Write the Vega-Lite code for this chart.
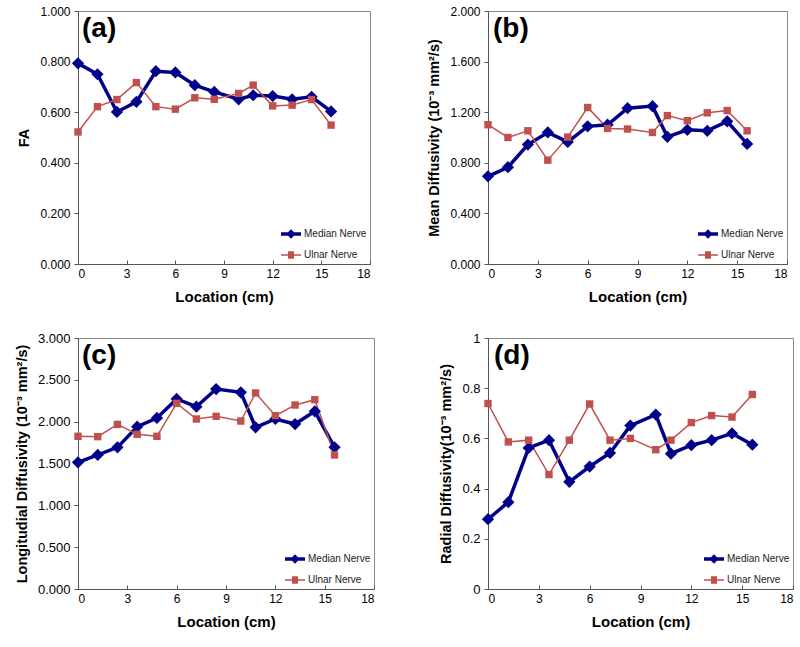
{
  "$schema": "https://vega.github.io/schema/vega-lite/v6.json",
  "background": "white",
  "padding": {"left": 13, "top": 4, "right": 4, "bottom": 4},
  "config": {
    "font": "Liberation Sans",
    "view": {"stroke": "#888888", "strokeWidth": 1},
    "axis": {"grid": false, "domainColor": "#555555", "tickColor": "#555555", "labelFont": "Liberation Sans", "labelFontSize": 12, "labelColor": "black", "titleFont": "Liberation Sans", "titleFontSize": 15, "titleFontWeight": "bold", "titleColor": "black", "tickSize": 4},
    "axisX": {"tickSize": -4, "labelPadding": 8, "titlePadding": 10},
    "axisY": {"titlePadding": 8, "labelPadding": 4, "titleFontSize": 14.5},
    "legend": {"labelFont": "Liberation Sans", "labelFontSize": 10, "labelColor": "#222222"},
    "title": {"font": "Liberation Sans", "fontSize": 28, "fontWeight": "bold", "anchor": "start", "frame": "group", "color": "black"}
  },
  "datasets": {
    "d": [
      {"panel": "a", "series": "Median Nerve", "loc": 0, "value": 0.793},
      {"panel": "a", "series": "Median Nerve", "loc": 1.2, "value": 0.750},
      {"panel": "a", "series": "Median Nerve", "loc": 2.4, "value": 0.601},
      {"panel": "a", "series": "Median Nerve", "loc": 3.6, "value": 0.641},
      {"panel": "a", "series": "Median Nerve", "loc": 4.8, "value": 0.762},
      {"panel": "a", "series": "Median Nerve", "loc": 6.0, "value": 0.757},
      {"panel": "a", "series": "Median Nerve", "loc": 7.2, "value": 0.707},
      {"panel": "a", "series": "Median Nerve", "loc": 8.4, "value": 0.680},
      {"panel": "a", "series": "Median Nerve", "loc": 9.9, "value": 0.651},
      {"panel": "a", "series": "Median Nerve", "loc": 10.8, "value": 0.667},
      {"panel": "a", "series": "Median Nerve", "loc": 12.0, "value": 0.664},
      {"panel": "a", "series": "Median Nerve", "loc": 13.2, "value": 0.651},
      {"panel": "a", "series": "Median Nerve", "loc": 14.4, "value": 0.661},
      {"panel": "a", "series": "Median Nerve", "loc": 15.6, "value": 0.603},
      {"panel": "a", "series": "Ulnar Nerve", "loc": 0, "value": 0.522},
      {"panel": "a", "series": "Ulnar Nerve", "loc": 1.2, "value": 0.622},
      {"panel": "a", "series": "Ulnar Nerve", "loc": 2.4, "value": 0.650},
      {"panel": "a", "series": "Ulnar Nerve", "loc": 3.6, "value": 0.717},
      {"panel": "a", "series": "Ulnar Nerve", "loc": 4.8, "value": 0.622},
      {"panel": "a", "series": "Ulnar Nerve", "loc": 6.0, "value": 0.612},
      {"panel": "a", "series": "Ulnar Nerve", "loc": 7.2, "value": 0.657},
      {"panel": "a", "series": "Ulnar Nerve", "loc": 8.4, "value": 0.651},
      {"panel": "a", "series": "Ulnar Nerve", "loc": 9.9, "value": 0.674},
      {"panel": "a", "series": "Ulnar Nerve", "loc": 10.8, "value": 0.707},
      {"panel": "a", "series": "Ulnar Nerve", "loc": 12.0, "value": 0.625},
      {"panel": "a", "series": "Ulnar Nerve", "loc": 13.2, "value": 0.628},
      {"panel": "a", "series": "Ulnar Nerve", "loc": 14.4, "value": 0.650},
      {"panel": "a", "series": "Ulnar Nerve", "loc": 15.6, "value": 0.549},
      {"panel": "b", "series": "Median Nerve", "loc": 0, "value": 0.693},
      {"panel": "b", "series": "Median Nerve", "loc": 1.2, "value": 0.765},
      {"panel": "b", "series": "Median Nerve", "loc": 2.4, "value": 0.944},
      {"panel": "b", "series": "Median Nerve", "loc": 3.6, "value": 1.040},
      {"panel": "b", "series": "Median Nerve", "loc": 4.8, "value": 0.965},
      {"panel": "b", "series": "Median Nerve", "loc": 6.0, "value": 1.088},
      {"panel": "b", "series": "Median Nerve", "loc": 7.2, "value": 1.101},
      {"panel": "b", "series": "Median Nerve", "loc": 8.4, "value": 1.232},
      {"panel": "b", "series": "Median Nerve", "loc": 9.9, "value": 1.248},
      {"panel": "b", "series": "Median Nerve", "loc": 10.8, "value": 1.005},
      {"panel": "b", "series": "Median Nerve", "loc": 12.0, "value": 1.061},
      {"panel": "b", "series": "Median Nerve", "loc": 13.2, "value": 1.053},
      {"panel": "b", "series": "Median Nerve", "loc": 14.4, "value": 1.128},
      {"panel": "b", "series": "Median Nerve", "loc": 15.6, "value": 0.949},
      {"panel": "b", "series": "Ulnar Nerve", "loc": 0, "value": 1.101},
      {"panel": "b", "series": "Ulnar Nerve", "loc": 1.2, "value": 1.000},
      {"panel": "b", "series": "Ulnar Nerve", "loc": 2.4, "value": 1.053},
      {"panel": "b", "series": "Ulnar Nerve", "loc": 3.6, "value": 0.821},
      {"panel": "b", "series": "Ulnar Nerve", "loc": 4.8, "value": 1.003},
      {"panel": "b", "series": "Ulnar Nerve", "loc": 6.0, "value": 1.237},
      {"panel": "b", "series": "Ulnar Nerve", "loc": 7.2, "value": 1.072},
      {"panel": "b", "series": "Ulnar Nerve", "loc": 8.4, "value": 1.067},
      {"panel": "b", "series": "Ulnar Nerve", "loc": 9.9, "value": 1.040},
      {"panel": "b", "series": "Ulnar Nerve", "loc": 10.8, "value": 1.173},
      {"panel": "b", "series": "Ulnar Nerve", "loc": 12.0, "value": 1.133},
      {"panel": "b", "series": "Ulnar Nerve", "loc": 13.2, "value": 1.195},
      {"panel": "b", "series": "Ulnar Nerve", "loc": 14.4, "value": 1.213},
      {"panel": "b", "series": "Ulnar Nerve", "loc": 15.6, "value": 1.053},
      {"panel": "c", "series": "Median Nerve", "loc": 0, "value": 1.514},
      {"panel": "c", "series": "Median Nerve", "loc": 1.2, "value": 1.602},
      {"panel": "c", "series": "Median Nerve", "loc": 2.4, "value": 1.693},
      {"panel": "c", "series": "Median Nerve", "loc": 3.6, "value": 1.940},
      {"panel": "c", "series": "Median Nerve", "loc": 4.8, "value": 2.044},
      {"panel": "c", "series": "Median Nerve", "loc": 6.0, "value": 2.271},
      {"panel": "c", "series": "Median Nerve", "loc": 7.2, "value": 2.179},
      {"panel": "c", "series": "Median Nerve", "loc": 8.4, "value": 2.390},
      {"panel": "c", "series": "Median Nerve", "loc": 9.9, "value": 2.351},
      {"panel": "c", "series": "Median Nerve", "loc": 10.8, "value": 1.932},
      {"panel": "c", "series": "Median Nerve", "loc": 12.0, "value": 2.032},
      {"panel": "c", "series": "Median Nerve", "loc": 13.2, "value": 1.972},
      {"panel": "c", "series": "Median Nerve", "loc": 14.4, "value": 2.124},
      {"panel": "c", "series": "Median Nerve", "loc": 15.6, "value": 1.693},
      {"panel": "c", "series": "Ulnar Nerve", "loc": 0, "value": 1.825},
      {"panel": "c", "series": "Ulnar Nerve", "loc": 1.2, "value": 1.821},
      {"panel": "c", "series": "Ulnar Nerve", "loc": 2.4, "value": 1.968},
      {"panel": "c", "series": "Ulnar Nerve", "loc": 3.6, "value": 1.849},
      {"panel": "c", "series": "Ulnar Nerve", "loc": 4.8, "value": 1.825},
      {"panel": "c", "series": "Ulnar Nerve", "loc": 6.0, "value": 2.219},
      {"panel": "c", "series": "Ulnar Nerve", "loc": 7.2, "value": 2.032},
      {"panel": "c", "series": "Ulnar Nerve", "loc": 8.4, "value": 2.064},
      {"panel": "c", "series": "Ulnar Nerve", "loc": 9.9, "value": 2.008},
      {"panel": "c", "series": "Ulnar Nerve", "loc": 10.8, "value": 2.343},
      {"panel": "c", "series": "Ulnar Nerve", "loc": 12.0, "value": 2.072},
      {"panel": "c", "series": "Ulnar Nerve", "loc": 13.2, "value": 2.199},
      {"panel": "c", "series": "Ulnar Nerve", "loc": 14.4, "value": 2.263},
      {"panel": "c", "series": "Ulnar Nerve", "loc": 15.6, "value": 1.602},
      {"panel": "d", "series": "Median Nerve", "loc": 0, "value": 0.278},
      {"panel": "d", "series": "Median Nerve", "loc": 1.2, "value": 0.346},
      {"panel": "d", "series": "Median Nerve", "loc": 2.4, "value": 0.562},
      {"panel": "d", "series": "Median Nerve", "loc": 3.6, "value": 0.593},
      {"panel": "d", "series": "Median Nerve", "loc": 4.8, "value": 0.427},
      {"panel": "d", "series": "Median Nerve", "loc": 6.0, "value": 0.488},
      {"panel": "d", "series": "Median Nerve", "loc": 7.2, "value": 0.542},
      {"panel": "d", "series": "Median Nerve", "loc": 8.4, "value": 0.651},
      {"panel": "d", "series": "Median Nerve", "loc": 9.9, "value": 0.695},
      {"panel": "d", "series": "Median Nerve", "loc": 10.8, "value": 0.539},
      {"panel": "d", "series": "Median Nerve", "loc": 12.0, "value": 0.573},
      {"panel": "d", "series": "Median Nerve", "loc": 13.2, "value": 0.593},
      {"panel": "d", "series": "Median Nerve", "loc": 14.4, "value": 0.620},
      {"panel": "d", "series": "Median Nerve", "loc": 15.6, "value": 0.575},
      {"panel": "d", "series": "Ulnar Nerve", "loc": 0, "value": 0.739},
      {"panel": "d", "series": "Ulnar Nerve", "loc": 1.2, "value": 0.586},
      {"panel": "d", "series": "Ulnar Nerve", "loc": 2.4, "value": 0.593},
      {"panel": "d", "series": "Ulnar Nerve", "loc": 3.6, "value": 0.456},
      {"panel": "d", "series": "Ulnar Nerve", "loc": 4.8, "value": 0.593},
      {"panel": "d", "series": "Ulnar Nerve", "loc": 6.0, "value": 0.737},
      {"panel": "d", "series": "Ulnar Nerve", "loc": 7.2, "value": 0.593},
      {"panel": "d", "series": "Ulnar Nerve", "loc": 8.4, "value": 0.600},
      {"panel": "d", "series": "Ulnar Nerve", "loc": 9.9, "value": 0.555},
      {"panel": "d", "series": "Ulnar Nerve", "loc": 10.8, "value": 0.593},
      {"panel": "d", "series": "Ulnar Nerve", "loc": 12.0, "value": 0.663},
      {"panel": "d", "series": "Ulnar Nerve", "loc": 13.2, "value": 0.691},
      {"panel": "d", "series": "Ulnar Nerve", "loc": 14.4, "value": 0.685},
      {"panel": "d", "series": "Ulnar Nerve", "loc": 15.6, "value": 0.775}
    ]
  },
  "data": {"name": "d"},
  "columns": 2,
  "spacing": {"row": 26, "column": 51},
  "resolve": {"scale": {"color": "independent", "shape": "independent", "strokeWidth": "independent"}, "legend": {"color": "independent", "shape": "independent"}},
  "concat": [
    {
      "width": 292, "height": 253,
      "title": {"text": "(a)", "dx": 4, "dy": 42},
      "transform": [{"filter": "datum.panel == 'a'"}],
      "encoding": {
        "x": {"field": "loc", "type": "quantitative", "title": "Location (cm)", "scale": {"domain": [0, 18], "nice": false}, "axis": {"values": [0, 3, 6, 9, 12, 15, 18]}},
        "y": {"field": "value", "type": "quantitative", "title": "FA", "scale": {"domain": [0, 1], "nice": false}, "axis": {"values": [0, 0.2, 0.4, 0.6, 0.8, 1.0], "format": ".3f"}}
      },
      "layer": [
        {"mark": {"type": "line"}, "encoding": {"color": {"field": "series", "type": "nominal", "scale": {"domain": ["Median Nerve", "Ulnar Nerve"], "range": ["#00008b", "#c0504d"]}, "legend": {"title": null, "orient": "bottom-right", "offset": 3, "symbolSize": 400, "symbolOpacity": 1, "rowPadding": 0, "labelOffset": 1}}, "strokeWidth": {"field": "series", "type": "nominal", "scale": {"domain": ["Median Nerve", "Ulnar Nerve"], "range": [3.5, 1.5]}, "legend": null}}},
        {"transform": [{"filter": "datum.series == 'Median Nerve'"}], "mark": {"type": "point", "shape": "diamond", "filled": true, "size": 150, "opacity": 1, "color": "#00008b"}},
        {"transform": [{"filter": "datum.series == 'Ulnar Nerve'"}], "mark": {"type": "point", "shape": "square", "filled": true, "size": 55, "opacity": 1, "color": "#c0504d"}},
        {"mark": {"type": "point", "filled": true, "opacity": 0}, "encoding": {"shape": {"field": "series", "type": "nominal", "scale": {"domain": ["Median Nerve", "Ulnar Nerve"], "range": ["M-1,0H1M0,-0.22L0.22,0L0,0.22L-0.22,0Z", "M-1,0H1M-0.3,-0.3H0.3M-0.3,-0.15H0.3M-0.3,0.15H0.3M-0.3,0.3H0.3"]}}}}
      ]
    },
    {
      "width": 299, "height": 253,
      "title": {"text": "(b)", "dx": 5, "dy": 42},
      "transform": [{"filter": "datum.panel == 'b'"}],
      "encoding": {
        "x": {"field": "loc", "type": "quantitative", "title": "Location (cm)", "scale": {"domain": [0, 18], "nice": false}, "axis": {"values": [0, 3, 6, 9, 12, 15, 18]}},
        "y": {"field": "value", "type": "quantitative", "title": "Mean Diffusivity (10⁻³ mm²/s)", "scale": {"domain": [0, 2], "nice": false}, "axis": {"values": [0, 0.4, 0.8, 1.2, 1.6, 2.0], "format": ".3f"}}
      },
      "layer": [
        {"mark": {"type": "line"}, "encoding": {"color": {"field": "series", "type": "nominal", "scale": {"domain": ["Median Nerve", "Ulnar Nerve"], "range": ["#00008b", "#c0504d"]}, "legend": {"title": null, "orient": "bottom-right", "offset": 3, "symbolSize": 400, "symbolOpacity": 1, "rowPadding": 0, "labelOffset": 1}}, "strokeWidth": {"field": "series", "type": "nominal", "scale": {"domain": ["Median Nerve", "Ulnar Nerve"], "range": [3.5, 1.5]}, "legend": null}}},
        {"transform": [{"filter": "datum.series == 'Median Nerve'"}], "mark": {"type": "point", "shape": "diamond", "filled": true, "size": 150, "opacity": 1, "color": "#00008b"}},
        {"transform": [{"filter": "datum.series == 'Ulnar Nerve'"}], "mark": {"type": "point", "shape": "square", "filled": true, "size": 55, "opacity": 1, "color": "#c0504d"}},
        {"mark": {"type": "point", "filled": true, "opacity": 0}, "encoding": {"shape": {"field": "series", "type": "nominal", "scale": {"domain": ["Median Nerve", "Ulnar Nerve"], "range": ["M-1,0H1M0,-0.22L0.22,0L0,0.22L-0.22,0Z", "M-1,0H1M-0.3,-0.3H0.3M-0.3,-0.15H0.3M-0.3,0.15H0.3M-0.3,0.3H0.3"]}}}}
      ]
    },
    {
      "width": 296, "height": 251,
      "title": {"text": "(c)", "dx": 4, "dy": 42},
      "transform": [{"filter": "datum.panel == 'c'"}],
      "encoding": {
        "x": {"field": "loc", "type": "quantitative", "title": "Location (cm)", "scale": {"domain": [0, 18], "nice": false}, "axis": {"values": [0, 3, 6, 9, 12, 15, 18]}},
        "y": {"field": "value", "type": "quantitative", "title": "Longitudial Diffusivity (10⁻³ mm²/s)", "scale": {"domain": [0, 3], "nice": false}, "axis": {"values": [0, 0.5, 1.0, 1.5, 2.0, 2.5, 3.0], "format": ".3f", "labelFontSize": 13}}
      },
      "layer": [
        {"mark": {"type": "line"}, "encoding": {"color": {"field": "series", "type": "nominal", "scale": {"domain": ["Median Nerve", "Ulnar Nerve"], "range": ["#00008b", "#c0504d"]}, "legend": {"title": null, "orient": "bottom-right", "offset": 3, "symbolSize": 400, "symbolOpacity": 1, "rowPadding": 0, "labelOffset": 1}}, "strokeWidth": {"field": "series", "type": "nominal", "scale": {"domain": ["Median Nerve", "Ulnar Nerve"], "range": [3.5, 1.5]}, "legend": null}}},
        {"transform": [{"filter": "datum.series == 'Median Nerve'"}], "mark": {"type": "point", "shape": "diamond", "filled": true, "size": 150, "opacity": 1, "color": "#00008b"}},
        {"transform": [{"filter": "datum.series == 'Ulnar Nerve'"}], "mark": {"type": "point", "shape": "square", "filled": true, "size": 55, "opacity": 1, "color": "#c0504d"}},
        {"mark": {"type": "point", "filled": true, "opacity": 0}, "encoding": {"shape": {"field": "series", "type": "nominal", "scale": {"domain": ["Median Nerve", "Ulnar Nerve"], "range": ["M-1,0H1M0,-0.22L0.22,0L0,0.22L-0.22,0Z", "M-1,0H1M-0.3,-0.3H0.3M-0.3,-0.15H0.3M-0.3,0.15H0.3M-0.3,0.3H0.3"]}}}}
      ]
    },
    {
      "width": 305, "height": 251,
      "title": {"text": "(d)", "dx": 6, "dy": 42},
      "transform": [{"filter": "datum.panel == 'd'"}],
      "encoding": {
        "x": {"field": "loc", "type": "quantitative", "title": "Location (cm)", "scale": {"domain": [0, 18], "nice": false}, "axis": {"values": [0, 3, 6, 9, 12, 15, 18]}},
        "y": {"field": "value", "type": "quantitative", "title": "Radial Diffusivity(10⁻³ mm²/s)", "scale": {"domain": [0, 1], "nice": false}, "axis": {"values": [0, 0.2, 0.4, 0.6, 0.8, 1.0], "format": "~g", "labelFontSize": 13}}
      },
      "layer": [
        {"mark": {"type": "line"}, "encoding": {"color": {"field": "series", "type": "nominal", "scale": {"domain": ["Median Nerve", "Ulnar Nerve"], "range": ["#00008b", "#c0504d"]}, "legend": {"title": null, "orient": "bottom-right", "offset": 3, "symbolSize": 400, "symbolOpacity": 1, "rowPadding": 0, "labelOffset": 1}}, "strokeWidth": {"field": "series", "type": "nominal", "scale": {"domain": ["Median Nerve", "Ulnar Nerve"], "range": [3.5, 1.5]}, "legend": null}}},
        {"transform": [{"filter": "datum.series == 'Median Nerve'"}], "mark": {"type": "point", "shape": "diamond", "filled": true, "size": 150, "opacity": 1, "color": "#00008b"}},
        {"transform": [{"filter": "datum.series == 'Ulnar Nerve'"}], "mark": {"type": "point", "shape": "square", "filled": true, "size": 55, "opacity": 1, "color": "#c0504d"}},
        {"mark": {"type": "point", "filled": true, "opacity": 0}, "encoding": {"shape": {"field": "series", "type": "nominal", "scale": {"domain": ["Median Nerve", "Ulnar Nerve"], "range": ["M-1,0H1M0,-0.22L0.22,0L0,0.22L-0.22,0Z", "M-1,0H1M-0.3,-0.3H0.3M-0.3,-0.15H0.3M-0.3,0.15H0.3M-0.3,0.3H0.3"]}}}}
      ]
    }
  ]
}
